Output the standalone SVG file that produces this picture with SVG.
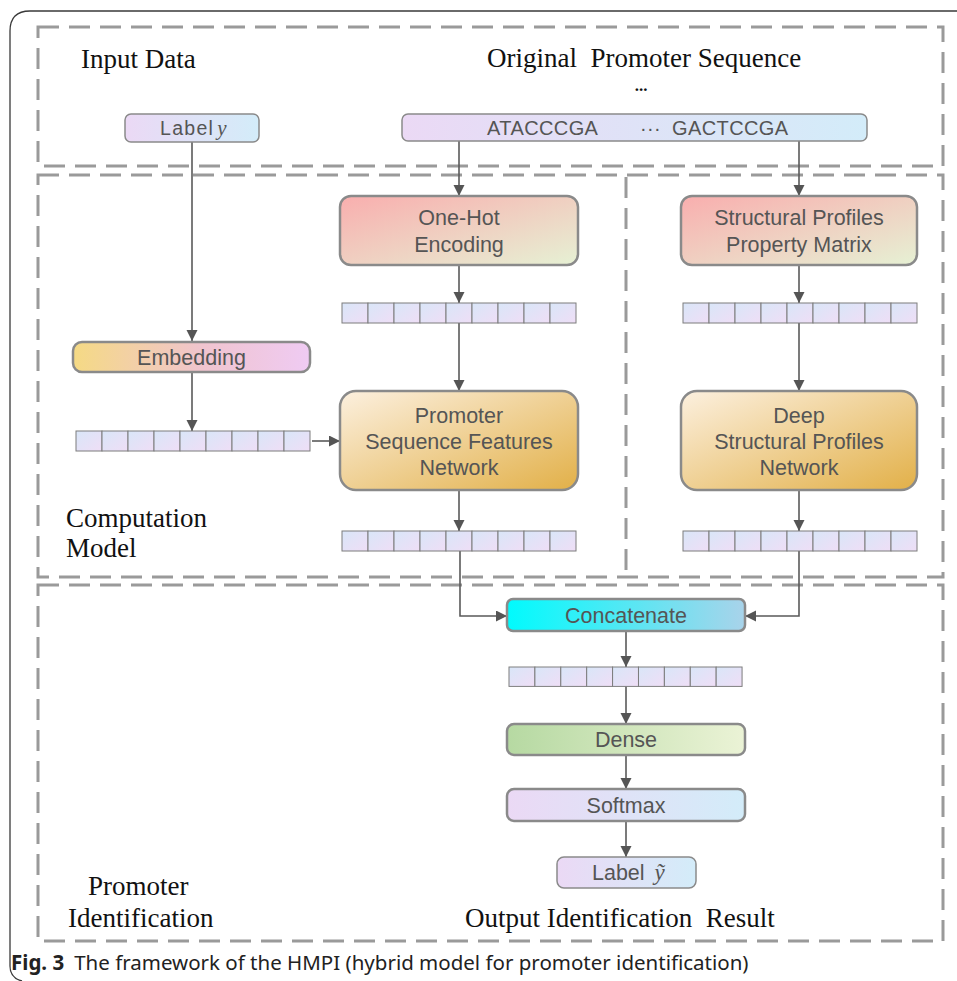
<svg xmlns="http://www.w3.org/2000/svg" width="957" height="981" viewBox="0 0 957 981">
<style>
.frame{fill:none;stroke:#3a3a3a;stroke-width:1.3}
.dash{fill:none;stroke:#9a9a9a;stroke-width:3;stroke-dasharray:21 10}
.node{stroke:#8a8a8a;stroke-width:2.5}
.small{stroke:#8a8a8a;stroke-width:1.5}
.cell{fill:url(#gCell);stroke:#7c7c7c;stroke-width:1}
.nt{font-family:"Liberation Sans",Arial,sans-serif;font-size:21.5px;fill:#555;text-anchor:middle}
.st{font-family:"Liberation Serif","Times New Roman",serif;font-size:27px;fill:#111;white-space:pre}
.cap{font-family:"Noto Sans","Open Sans",sans-serif;font-size:20.5px;fill:#222}
.conn{fill:none;stroke:#5a5a5a;stroke-width:1.6}
</style>
<defs>
<linearGradient id="gLav" x1="0" y1="0" x2="1" y2="0"><stop offset="0" stop-color="#ebd9f5"/><stop offset="1" stop-color="#d3ecf9"/></linearGradient>
<linearGradient id="gRed" x1="0" y1="0" x2="1" y2="1"><stop offset="0" stop-color="#f9aeae"/><stop offset="1" stop-color="#e6f1d4"/></linearGradient>
<linearGradient id="gGold" x1="0" y1="0" x2="1" y2="1"><stop offset="0" stop-color="#fcf0df"/><stop offset="1" stop-color="#e2b048"/></linearGradient>
<linearGradient id="gEmb" x1="0" y1="0" x2="1" y2="0"><stop offset="0" stop-color="#f5da84"/><stop offset="0.55" stop-color="#f0c4cf"/><stop offset="1" stop-color="#efcbf3"/></linearGradient>
<linearGradient id="gCyan" x1="0" y1="0" x2="1" y2="0"><stop offset="0" stop-color="#00fbfd"/><stop offset="1" stop-color="#a9d3ea"/></linearGradient>
<linearGradient id="gGreen" x1="0" y1="0" x2="1" y2="0"><stop offset="0" stop-color="#b6d9a2"/><stop offset="1" stop-color="#ebf3d6"/></linearGradient>
<linearGradient id="gCell" x1="0" y1="0" x2="1" y2="1"><stop offset="0" stop-color="#d9e6f8"/><stop offset="1" stop-color="#efdef6"/></linearGradient>
<g id="strip">
<rect class="cell" x="0" y="0" width="26" height="20"/><rect class="cell" x="26" y="0" width="26" height="20"/><rect class="cell" x="52" y="0" width="26" height="20"/><rect class="cell" x="78" y="0" width="26" height="20"/><rect class="cell" x="104" y="0" width="26" height="20"/><rect class="cell" x="130" y="0" width="26" height="20"/><rect class="cell" x="156" y="0" width="26" height="20"/><rect class="cell" x="182" y="0" width="26" height="20"/><rect class="cell" x="208" y="0" width="26" height="20"/>
</g>
<marker id="arr" markerUnits="userSpaceOnUse" markerWidth="12" markerHeight="12" refX="11" refY="5.5" orient="auto"><path d="M0,0 L11,5.5 L0,11 z" fill="#555"/></marker>
</defs>
<rect width="957" height="981" fill="#fff"/>
<path class="frame" d="M22,981 Q10,978 10,966 L10,31 Q10,11 30,11 L957,11"/>

<g id="regions">
<rect class="dash" x="38" y="27" width="905" height="139"/>
<rect class="dash" x="38" y="175" width="905" height="402"/>
<line class="dash" x1="626" y1="177" x2="626" y2="577"/>
<rect class="dash" x="38" y="585" width="905" height="356"/>
</g>

<g id="region-labels">
<text class="st" x="81" y="68">Input Data</text>
<text class="st" x="487" y="67">Original  Promoter Sequence</text>
<text class="st" x="641" y="91" text-anchor="middle" style="font-size:17px;font-weight:bold">...</text>
<text class="st" x="66" y="527">Computation</text>
<text class="st" x="66" y="557">Model</text>
<text class="st" x="88" y="895">Promoter</text>
<text class="st" x="68" y="927">Identification</text>
<text class="st" x="465" y="927">Output Identification  Result</text>
</g>

<g id="connectors">
<path class="conn" d="M192,142 V341" marker-end="url(#arr)"/>
<path class="conn" d="M192,372 V431" marker-end="url(#arr)"/>
<path class="conn" d="M312,441 H340" marker-end="url(#arr)"/>
<path class="conn" d="M459,141 V196" marker-end="url(#arr)"/>
<path class="conn" d="M799,141 V196" marker-end="url(#arr)"/>
<path class="conn" d="M459,265 V303" marker-end="url(#arr)"/>
<path class="conn" d="M799,265 V303" marker-end="url(#arr)"/>
<path class="conn" d="M459,323 V391" marker-end="url(#arr)"/>
<path class="conn" d="M799,323 V391" marker-end="url(#arr)"/>
<path class="conn" d="M459,490 V531" marker-end="url(#arr)"/>
<path class="conn" d="M799,490 V531" marker-end="url(#arr)"/>
<path class="conn" d="M460,551 V616 H507" marker-end="url(#arr)"/>
<path class="conn" d="M799,551 V616 H745" marker-end="url(#arr)"/>
<path class="conn" d="M626,631 V667" marker-end="url(#arr)"/>
<path class="conn" d="M626,686 V724" marker-end="url(#arr)"/>
<path class="conn" d="M626,755 V789" marker-end="url(#arr)"/>
<path class="conn" d="M626,821 V857" marker-end="url(#arr)"/>
</g>

<g id="label-y">
<rect class="small" x="125" y="114" width="134" height="28" rx="6" fill="url(#gLav)"/>
<text class="nt" x="160" y="135" style="font-size:19.5px;text-anchor:start;letter-spacing:1.3px">Label<tspan dx="3" style="font-family:'Liberation Serif',serif;font-style:italic;font-size:21px;letter-spacing:0">y</tspan></text>
</g>

<g id="sequence">
<rect class="small" x="402" y="114" width="465" height="27" rx="6" fill="url(#gLav)"/>
<text class="nt" y="134.5" style="font-size:20px;text-anchor:start;letter-spacing:0.4px"><tspan x="487">ATACCCGA</tspan><tspan x="640">···</tspan><tspan x="672">GACTCCGA</tspan></text>
</g>

<g id="one-hot">
<rect class="node" x="340" y="196" width="238" height="69" rx="11" fill="url(#gRed)"/>
<text class="nt" x="459" y="224.5">One-Hot</text>
<text class="nt" x="459" y="251.5">Encoding</text>
</g>

<g id="sppm">
<rect class="node" x="681" y="196" width="236" height="69" rx="11" fill="url(#gRed)"/>
<text class="nt" x="799" y="224.5">Structural Profiles</text>
<text class="nt" x="799" y="251.5">Property Matrix</text>
</g>

<g id="vec-onehot"><use href="#strip" x="342" y="303"/></g>
<g id="vec-sppm"><use href="#strip" x="683" y="303"/></g>

<g id="embedding">
<rect class="node" x="73" y="342" width="237" height="30" rx="9" fill="url(#gEmb)"/>
<text class="nt" x="191.5" y="364.5">Embedding</text>
</g>

<g id="vec-embedding"><use href="#strip" x="76" y="431"/></g>

<g id="psfn">
<rect class="node" x="340" y="391" width="238" height="99" rx="16" fill="url(#gGold)"/>
<text class="nt" x="459" y="423">Promoter</text>
<text class="nt" x="459" y="449">Sequence Features</text>
<text class="nt" x="459" y="475">Network</text>
</g>

<g id="dspn">
<rect class="node" x="681" y="391" width="236" height="99" rx="16" fill="url(#gGold)"/>
<text class="nt" x="799" y="423">Deep</text>
<text class="nt" x="799" y="449">Structural Profiles</text>
<text class="nt" x="799" y="475">Network</text>
</g>

<g id="vec-psfn"><use href="#strip" x="342" y="531"/></g>
<g id="vec-dspn"><use href="#strip" x="683" y="531"/></g>

<g id="concatenate">
<rect class="node" x="507" y="599" width="238" height="32" rx="6" fill="url(#gCyan)"/>
<text class="nt" x="626" y="622.5">Concatenate</text>
</g>

<g id="vec-concat"><use href="#strip" x="509" y="667" transform="translate(509 667) scale(0.996 0.97) translate(-509 -667)"/></g>

<g id="dense">
<rect class="node" x="507" y="724" width="238" height="31" rx="7" fill="url(#gGreen)"/>
<text class="nt" x="626" y="747">Dense</text>
</g>

<g id="softmax">
<rect class="node" x="507" y="789" width="238" height="32" rx="7" fill="url(#gLav)"/>
<text class="nt" x="626" y="812.5">Softmax</text>
</g>

<g id="label-ytilde">
<rect class="small" x="557" y="857" width="139" height="31" rx="7" fill="url(#gLav)"/>
<text class="nt" x="592" y="880" style="text-anchor:start">Label <tspan dx="4" style="font-family:'Liberation Serif',serif;font-style:italic;font-size:23px">ỹ</tspan></text>
</g>

<g id="caption">
<text class="cap" x="11" y="970"><tspan font-weight="bold">Fig. 3</tspan><tspan dx="10">The framework of the HMPI (hybrid model for promoter identification)</tspan></text>
</g>
</svg>
